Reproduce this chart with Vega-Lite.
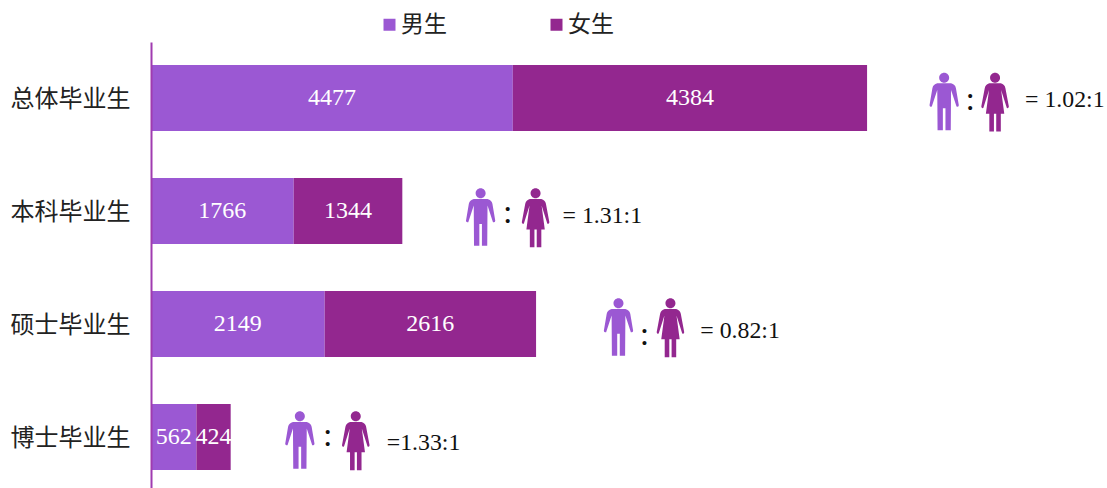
{
"$schema":"https://vega.github.io/schema/vega-lite/v6.json",
"width":956,"height":446,
"autosize":{"type":"none"},
"padding":{"left":151,"top":42,"right":0,"bottom":0},
"background":"#ffffff",
"config":{"view":{"stroke":null}},
"datasets":{
"bars":[
{"组别":"总体毕业生","性别":"男生","人数":4477,"顺序":1},
{"组别":"总体毕业生","性别":"女生","人数":4384,"顺序":2},
{"组别":"本科毕业生","性别":"男生","人数":1766,"顺序":1},
{"组别":"本科毕业生","性别":"女生","人数":1344,"顺序":2},
{"组别":"硕士毕业生","性别":"男生","人数":2149,"顺序":1},
{"组别":"硕士毕业生","性别":"女生","人数":2616,"顺序":2},
{"组别":"博士毕业生","性别":"男生","人数":562,"顺序":1},
{"组别":"博士毕业生","性别":"女生","人数":424,"顺序":2}],
"icons":[
{"性别":"男生","图标":"man","at":9815,"row":0.526},
{"性别":"女生","图标":"woman","at":10445,"row":0.526},
{"性别":"男生","图标":"man","at":4079,"row":1.549},
{"性别":"女生","图标":"woman","at":4759,"row":1.549},
{"性别":"男生","图标":"man","at":5785,"row":2.522},
{"性别":"女生","图标":"woman","at":6428,"row":2.522},
{"性别":"男生","图标":"man","at":1842,"row":3.522},
{"性别":"女生","图标":"woman","at":2534,"row":3.522}],
"colons":[
{"at":10136,"row":0.513,"t":":"},
{"at":4413,"row":1.515,"t":":"},
{"at":6106,"row":2.594,"t":":"},
{"at":2188,"row":3.488,"t":":"}],
"ratios":[
{"at":10816,"row":0.509,"t":"= 1.02:1"},
{"at":5093,"row":1.54,"t":"= 1.31:1"},
{"at":6798,"row":2.558,"t":"= 0.82:1"},
{"at":2917,"row":3.549,"t":"=1.33:1"}]
},
"resolve":{"scale":{"y":"independent"}},
"layer":[
{"data":{"name":"bars"},
 "mark":{"type":"bar"},
 "encoding":{
 "y":{"field":"组别","type":"nominal","title":null,
  "scale":{"type":"band","domain":["总体毕业生","本科毕业生","硕士毕业生","博士毕业生"],"paddingInner":0.416,"paddingOuter":0.1815,"align":0.56},
  "axis":{"ticks":false,"domainColor":"#a03bb0","domainWidth":2,"labelPadding":21,"labelOffset":2,"labelFont":"Noto Sans CJK SC","labelFontSize":24,"labelColor":"#222222","grid":false,"zindex":1}},
 "x":{"field":"人数","type":"quantitative","stack":"zero","scale":{"domain":[0,11830],"nice":false},"axis":null},
 "order":{"field":"顺序","type":"quantitative"},
 "color":{"field":"性别","type":"nominal",
  "scale":{"domain":["男生","女生"],"range":["#9b58d3","#93278f"]},
  "legend":{"orient":"none","legendX":227,"legendY":-29,"direction":"horizontal","title":null,"symbolType":"square","symbolSize":144,"symbolOpacity":1,"labelFont":"Noto Sans CJK SC","labelFontSize":23,"labelColor":"#222222","labelOffset":0,"columnPadding":98,"symbolStrokeWidth":0}}
 }},
{"data":{"name":"bars"},
 "mark":{"type":"text","font":"Liberation Serif","fontSize":24,"color":"#ffffff","align":"center","baseline":"middle"},
 "encoding":{
 "y":{"field":"组别","type":"nominal",
  "scale":{"type":"band","domain":["总体毕业生","本科毕业生","硕士毕业生","博士毕业生"],"paddingInner":0.416,"paddingOuter":0.1815,"align":0.56},"axis":null},
 "x":{"field":"人数","type":"quantitative","stack":"zero","bandPosition":0.5},
 "order":{"field":"顺序","type":"quantitative"},
 "detail":{"field":"性别"},
 "text":{"field":"人数","type":"quantitative"}
 }},
{"data":{"name":"icons"},
 "mark":{"type":"point","filled":true,"opacity":1,"size":3300,"strokeWidth":0},
 "encoding":{
 "x":{"field":"at","type":"quantitative"},
 "y":{"field":"row","type":"quantitative","scale":{"domain":[0,3.947],"reverse":true,"nice":false},"axis":null},
 "color":{"field":"性别","type":"nominal","legend":null},
 "shape":{"field":"图标","type":"nominal","legend":null,
  "scale":{"domain":["man","woman"],"range":[
  "M-0.174,-0.826A0.174,0.174 0 1 1 0.174,-0.826A0.174,0.174 0 1 1 -0.174,-0.826ZM-0.24,-0.63L0.24,-0.63Q0.38,-0.6 0.41,-0.46L0.51,0.13Q0.5,0.2 0.43,0.18L0.24,-0.4L0.23,1L0.045,1L0.045,0.24L-0.045,0.24L-0.045,1L-0.23,1L-0.24,-0.4L-0.43,0.18Q-0.5,0.2 -0.51,0.13L-0.41,-0.46Q-0.38,-0.6 -0.24,-0.63Z",
  "M-0.174,-0.826A0.174,0.174 0 1 1 0.174,-0.826A0.174,0.174 0 1 1 -0.174,-0.826ZM-0.2,-0.63L0.2,-0.63Q0.33,-0.6 0.36,-0.46L0.48,0.18Q0.47,0.25 0.41,0.23L0.21,-0.4L0.32,0.43L0.2,0.43L0.2,1.05L0.04,1.05L0.04,0.43L-0.04,0.43L-0.04,1.05L-0.2,1.05L-0.2,0.43L-0.32,0.43L-0.21,-0.4L-0.41,0.23Q-0.47,0.25 -0.48,0.18L-0.36,-0.46Q-0.33,-0.6 -0.2,-0.63Z"]}}
 }},
{"data":{"name":"colons"},
 "mark":{"type":"text","font":"Liberation Serif","fontSize":34,"color":"#111111","align":"center","baseline":"middle"},
 "encoding":{
 "x":{"field":"at","type":"quantitative"},
 "y":{"field":"row","type":"quantitative","scale":{"domain":[0,3.947],"reverse":true,"nice":false},"axis":null},
 "text":{"field":"t"}
 }},
{"data":{"name":"ratios"},
 "mark":{"type":"text","font":"Liberation Serif","fontSize":23.8,"color":"#111111","align":"left","baseline":"middle"},
 "encoding":{
 "x":{"field":"at","type":"quantitative"},
 "y":{"field":"row","type":"quantitative","scale":{"domain":[0,3.947],"reverse":true,"nice":false},"axis":null},
 "text":{"field":"t"}
 }}
]
}
